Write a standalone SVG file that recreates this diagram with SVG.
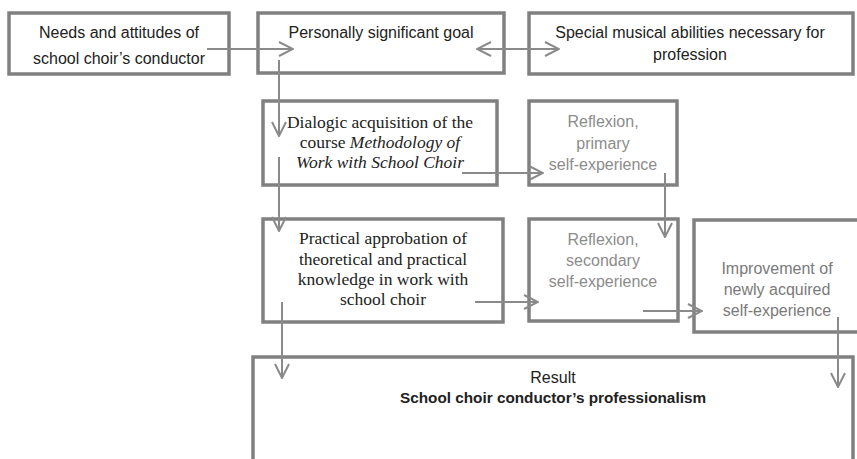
<svg xmlns="http://www.w3.org/2000/svg" width="857" height="459" viewBox="0 0 857 459">
<defs>
<marker id="ah" viewBox="0 0 16 16" refX="15" refY="8" markerWidth="16" markerHeight="16" markerUnits="userSpaceOnUse" orient="auto-start-reverse">
<path d="M1,1 L15,8 L1,15" fill="none" stroke="#8a8a8a" stroke-width="2"/>
</marker>
<style>
.box{fill:#fff;stroke:#808080;stroke-width:3.5}
.c{fill:none;stroke:#8a8a8a;stroke-width:2;marker-end:url(#ah)}
.s{font-family:"Liberation Sans",Arial,sans-serif;font-size:16px;fill:#222;text-anchor:middle}
.g{fill:#8c8c8c}
.g2{fill:#7a7a7a}
.r{font-family:"Liberation Serif","Times New Roman",serif;font-size:17.5px;fill:#222;text-anchor:middle}
.b{font-weight:bold;font-size:15.3px}
</style>
</defs>
<rect width="857" height="459" fill="#fff"/>
<g id="needs">
<rect class="box" x="9" y="13" width="220" height="61"/>
<text class="s" x="119" y="38">Needs and attitudes of</text>
<text class="s" x="119" y="64">school choir’s conductor</text>
</g>
<g id="goal">
<rect class="box" x="258" y="13" width="246" height="60"/>
<text class="s" x="381" y="38">Personally significant goal</text>
</g>
<g id="abilities">
<rect class="box" x="529" y="13" width="324" height="61"/>
<text class="s" x="690" y="38">Special musical abilities necessary for</text>
<text class="s" x="690" y="60">profession</text>
</g>
<g id="dialogic">
<rect class="box" x="263" y="101" width="234" height="84"/>
<text class="r" x="380" y="128">Dialogic acquisition of the</text>
<text class="r" x="380" y="148">course <tspan font-style="italic">Methodology of</tspan></text>
<text class="r" x="380" y="168" font-style="italic">Work with School Choir</text>
</g>
<g id="reflexion1">
<rect class="box" x="529" y="101" width="148" height="84"/>
<text class="s g" x="603" y="127">Reflexion,</text>
<text class="s g" x="603" y="148.5">primary</text>
<text class="s g" x="603" y="170">self-experience</text>
</g>
<g id="practical">
<rect class="box" x="263" y="219" width="240" height="103"/>
<text class="r" x="383" y="244">Practical approbation of</text>
<text class="r" x="383" y="265">theoretical and practical</text>
<text class="r" x="383" y="285">knowledge in work with</text>
<text class="r" x="383" y="305">school choir</text>
</g>
<g id="reflexion2">
<rect class="box" x="529" y="219" width="149" height="102"/>
<text class="s g" x="603" y="245">Reflexion,</text>
<text class="s g" x="603" y="266">secondary</text>
<text class="s g" x="603" y="287">self-experience</text>
</g>
<g id="improvement">
<rect class="box" x="694" y="220" width="180" height="112"/>
<text class="s g2" x="777" y="274">Improvement of</text>
<text class="s g2" x="777" y="295">newly acquired</text>
<text class="s g2" x="777" y="316">self-experience</text>
</g>
<g id="result">
<rect class="box" x="253" y="357" width="600" height="120"/>
<text class="s" x="553" y="383">Result</text>
<text class="s b" x="553" y="403">School choir conductor’s professionalism</text>
</g>
<g id="connectors">
<line class="c" x1="207" y1="49" x2="293" y2="49"/>
<line class="c" x1="477" y1="49" x2="559" y2="49" style="marker-start:url(#ah)"/>
<line class="c" x1="279" y1="60" x2="279" y2="136"/>
<line class="c" x1="279" y1="157" x2="279" y2="231"/>
<line class="c" x1="462" y1="173" x2="543" y2="173"/>
<line class="c" x1="665" y1="173" x2="665" y2="237"/>
<line class="c" x1="475" y1="302" x2="538" y2="302"/>
<line class="c" x1="282" y1="302" x2="282" y2="378"/>
<line class="c" x1="643" y1="311" x2="702" y2="311"/>
<line class="c" x1="838" y1="317" x2="838" y2="387"/>
</g>
</svg>
